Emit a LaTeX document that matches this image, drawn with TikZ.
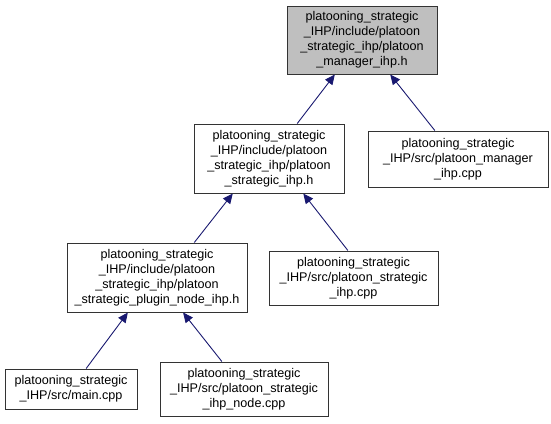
\documentclass[tikz,border=0pt]{standalone}
\usepackage{fontspec}
\setmainfont{Liberation Sans}
\usetikzlibrary{arrows.meta,calc}
\definecolor{edgeblue}{HTML}{191970}
\definecolor{hlgray}{HTML}{BFBFBF}
\begin{document}
\begin{tikzpicture}[x=1pt,y=-1pt,
  box/.style={draw=black!80,line width=1pt,fill=white,inner sep=0pt,align=center,
    font=\fontsize{12.6}{15}\selectfont},
  dep/.style={draw=edgeblue,line width=0.9pt,-{Triangle[length=10pt,width=9pt]},color=edgeblue}]
\useasboundingbox (0,0) rectangle (551,423);
\node[box,fill=hlgray,minimum width=150pt,minimum height=68pt] (A) at (362,40)
  {platooning\_strategic\\\_IHP/include/platoon\\\_strategic\_ihp/platoon\\\_manager\_ihp.h};
\node[box,minimum width=150pt,minimum height=69pt] (B) at (269,158.5)
  {platooning\_strategic\\\_IHP/include/platoon\\\_strategic\_ihp/platoon\\\_strategic\_ihp.h};
\node[box,minimum width=180pt,minimum height=56pt] (C) at (458,159)
  {platooning\_strategic\\\_IHP/src/platoon\_manager\\\_ihp.cpp};
\node[box,minimum width=180pt,minimum height=69pt] (D) at (157,277.5)
  {platooning\_strategic\\\_IHP/include/platoon\\\_strategic\_ihp/platoon\\\_strategic\_plugin\_node\_ihp.h};
\node[box,minimum width=169pt,minimum height=54pt] (E) at (353.5,278)
  {platooning\_strategic\\\_IHP/src/platoon\_strategic\\\_ihp.cpp};
\node[box,minimum width=132pt,minimum height=40pt] (F) at (71,389)
  {platooning\_strategic\\\_IHP/src/main.cpp};
\node[box,minimum width=168pt,minimum height=54pt] (G) at (244,389)
  {platooning\_strategic\\\_IHP/src/platoon\_strategic\\\_ihp\_node.cpp};
\draw[dep] ($(B.north west)!0.687!(B.north east)$) -- ($(A.south west)!0.32!(A.south east)$);
\draw[dep] ($(C.north west)!0.372!(C.north east)$) -- ($(A.south west)!0.687!(A.south east)$);
\draw[dep] ($(D.north west)!0.706!(D.north east)$) -- ($(B.south west)!0.26!(B.south east)$);
\draw[dep] ($(E.north west)!0.467!(E.north east)$) -- ($(B.south west)!0.727!(B.south east)$);
\draw[dep] ($(F.north west)!0.614!(F.north east)$) -- ($(D.south west)!0.339!(D.south east)$);
\draw[dep] ($(G.north west)!0.369!(G.north east)$) -- ($(D.south west)!0.644!(D.south east)$);
\end{tikzpicture}
\end{document}
